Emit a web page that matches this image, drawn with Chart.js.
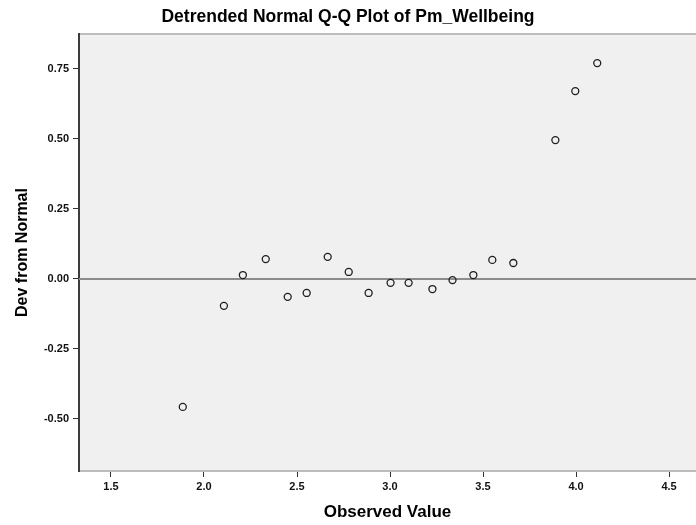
<!DOCTYPE html>
<html>
<head>
<meta charset="utf-8">
<title>Detrended Normal Q-Q Plot of Pm_Wellbeing</title>
<script src="https://cdn.jsdelivr.net/npm/chart.js@4.4.1/dist/chart.umd.min.js"></script>
<style>
  html, body { margin: 0; padding: 0; background: #ffffff; }
  #wrap { width: 696px; height: 525px; position: relative; }
</style>
</head>
<body>
<div id="wrap"><canvas id="qq-chart"></canvas></div>
<script>
// Detrended normal Q-Q plot: observed value vs deviation from normal
const observedValues = [
    1.886, 2.107, 2.209, 2.332, 2.450, 2.552, 2.665, 2.778, 2.885, 3.003,
    3.100, 3.228, 3.336, 3.448, 3.550, 3.663, 3.889, 3.996, 4.114
];
const devFromNormal = [
    -0.457, -0.096, 0.014, 0.071, -0.064, -0.050, 0.079, 0.025, -0.050, -0.014,
    -0.014, -0.036, -0.004, 0.014, 0.068, 0.057, 0.496, 0.671, 0.771
];

const xTicks = [1.5, 2.0, 2.5, 3.0, 3.5, 4.0, 4.5];
const yTicks = [-0.5, -0.25, 0, 0.25, 0.5, 0.75];

const X_MIN = 1.328;
const X_MAX = 4.645;
const Y_MIN = -0.686;
const Y_MAX = 0.875;

const FONT = "'Liberation Sans', Arial, sans-serif";

// Plot background and top frame line
const plotFrame = {
    id: 'plotFrame',
    beforeDraw(chart) {
        const { ctx, chartArea: a } = chart;
        ctx.save();
        ctx.fillStyle = '#f0f0f0';
        ctx.fillRect(a.left, a.top, a.right - a.left, a.bottom - a.top);
        ctx.strokeStyle = '#bdbdbd';
        ctx.lineWidth = 2;
        ctx.beginPath();
        ctx.moveTo(a.left, a.top);
        ctx.lineTo(a.right, a.top);
        ctx.stroke();
        ctx.restore();
    }
};

function initChart() {
    const points = observedValues.map((x, i) => ({ x: x, y: devFromNormal[i] }));

    new Chart(document.getElementById('qq-chart'), {
        type: 'scatter',
        data: {
            datasets: [
                {
                    type: 'line',
                    label: 'Zero',
                    data: [{ x: X_MIN, y: 0 }, { x: X_MAX, y: 0 }],
                    borderColor: '#8c8c8c',
                    borderWidth: 2,
                    pointRadius: 0,
                    fill: false,
                    order: 2
                },
                {
                    label: 'Pm_Wellbeing',
                    data: points,
                    pointStyle: 'circle',
                    pointRadius: 3.5,
                    pointBorderWidth: 1.3,
                    pointBorderColor: '#1e1e1e',
                    pointBackgroundColor: 'rgba(0,0,0,0)',
                    order: 1
                }
            ]
        },
        options: {
            responsive: true,
            maintainAspectRatio: false,
            animation: false,
            layout: { autoPadding: false, padding: 0 },
            plugins: {
                legend: { display: false },
                tooltip: { enabled: false },
                title: {
                    display: true,
                    text: 'Detrended Normal Q-Q Plot of Pm_Wellbeing',
                    color: '#000000',
                    font: { family: FONT, size: 17.5, weight: 'bold' },
                    padding: { top: 6.5, bottom: 6.5 }
                }
            },
            scales: {
                x: {
                    type: 'linear',
                    min: X_MIN,
                    max: X_MAX,
                    afterBuildTicks: (scale) => { scale.ticks = xTicks.map(v => ({ value: v })); },
                    afterFit: (scale) => { scale.height = 54; },
                    grid: { drawOnChartArea: false, drawTicks: true, tickLength: 6, color: '#333333' },
                    border: { color: '#bdbdbd', width: 2 },
                    ticks: {
                        color: '#111111',
                        padding: 3,
                        font: { family: FONT, size: 11, weight: 'bold' },
                        callback: (v) => Number(v).toFixed(1)
                    },
                    title: {
                        display: true,
                        text: 'Observed Value',
                        color: '#000000',
                        font: { family: FONT, size: 17, weight: 'bold' },
                        padding: { top: 2.5, bottom: 2.3 }
                    }
                },
                y: {
                    type: 'linear',
                    min: Y_MIN,
                    max: Y_MAX,
                    afterBuildTicks: (scale) => { scale.ticks = yTicks.map(v => ({ value: v })); },
                    afterFit: (scale) => { scale.width = 79; },
                    grid: { drawOnChartArea: false, drawTicks: true, tickLength: 6, color: '#333333' },
                    border: { color: '#3c3c3c', width: 2 },
                    ticks: {
                        color: '#111111',
                        padding: 4,
                        font: { family: FONT, size: 11, weight: 'bold' },
                        callback: (v) => Number(v).toFixed(2)
                    },
                    title: {
                        display: true,
                        text: 'Dev from Normal',
                        color: '#000000',
                        font: { family: FONT, size: 16, weight: 'bold' },
                        padding: { top: 13.4, bottom: 0 }
                    }
                }
            }
        },
        plugins: [plotFrame]
    });
}

document.addEventListener('DOMContentLoaded', initChart);
</script>
</body>
</html>
